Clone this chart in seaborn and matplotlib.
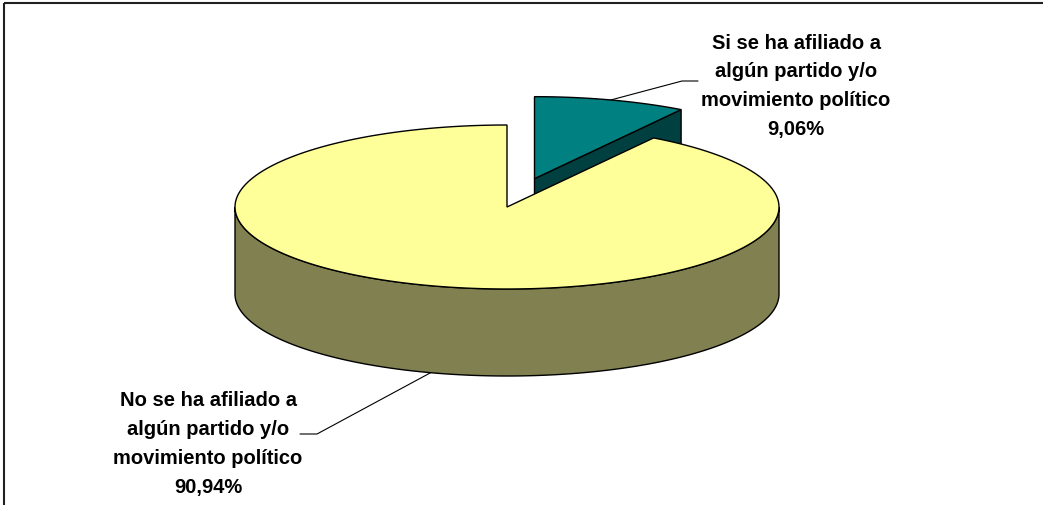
import numpy as np
import matplotlib
matplotlib.use("Agg")
import matplotlib.pyplot as plt
from matplotlib import font_manager
from matplotlib.patches import Polygon
import seaborn as sns

# ── Data ──────────────────────────────────────────────────────────────────────
labels = [
    "Si se ha afiliado a\nalgún partido y/o\nmovimiento político",
    "No se ha afiliado a\nalgún partido y/o\nmovimiento político",
]
values = [9.06, 90.94]            # percent
explode = [0.36, 0.0]

TOP_COLORS = ["#008080", "#FFFF99"]
SIDE_COLORS = ["#004040", "#808050"]

# ── Geometry (pixels) ─────────────────────────────────────────────────────────
W, H = 1043, 506
CX, CY = 507, 208      # centre of the top ellipse
RX, RY = 272, 82       # ellipse radii
DEPTH = 87             # height of the pie wall
EDGE_LW = 1.0

sns.set_style("white")
_names = {f.name for f in font_manager.fontManager.ttflist}
if "Liberation Sans Narrow" in _names:
    FONT, FSIZE = "Liberation Sans Narrow", 17
else:
    FONT, FSIZE = "Liberation Sans", 14.5
plt.rcParams["font.family"] = [FONT, "DejaVu Sans"]


def rim(theta, cx, cy, dz=0.0):
    t = np.radians(theta)
    return cx + RX * np.cos(t), cy - RY * np.sin(t) + dz


def arc(lo, hi, cx, cy, dz=0.0, n=200):
    th = np.linspace(lo, hi, n)
    x, y = rim(th, cx, cy, dz)
    return np.column_stack([x, y])


def front_ranges(lo, hi):
    """Parts of [lo, hi] that lie on the front half (sin < 0)."""
    out = []
    for k in range(-2, 3):
        a, b = max(lo, k * 360 - 180), min(hi, k * 360)
        if b > a:
            out.append((a, b))
    return out


fig = plt.figure(figsize=(W / 100, H / 100), dpi=100)
ax = fig.add_axes([0, 0, 1, 1])
ax.set_xlim(0, W)
ax.set_ylim(H, 0)
ax.axis("off")

# slice angle ranges: start at 12 o'clock, run clockwise
slices = []
start = 90.0
for v, e in zip(values, explode):
    span = 360.0 * v / sum(values)
    lo, hi = start - span, start
    mid = (lo + hi) / 2
    cx, cy = rim(mid, 0, 0)
    cx, cy = CX + e * cx, CY + e * cy
    slices.append((lo, hi, mid, cx, cy))
    start = lo

# back slices first
order = sorted(range(len(slices)), key=lambda i: -np.sin(np.radians(slices[i][2])))
for i in order:
    lo, hi, mid, cx, cy = slices[i]
    side, top = SIDE_COLORS[i], TOP_COLORS[i]
    # radial faces
    for ang, vis in ((lo, np.cos(np.radians(lo)) > 1e-6),
                     (hi, np.cos(np.radians(hi)) < -1e-6)):
        if vis:
            px, py = rim(ang, cx, cy)
            face = [(cx, cy), (px, py), (px, py + DEPTH), (cx, cy + DEPTH)]
            ax.add_patch(Polygon(face, closed=True, fc=side, ec="black", lw=EDGE_LW))
    # outer wall
    for a, b in front_ranges(lo, hi):
        pts = np.vstack([arc(a, b, cx, cy), arc(a, b, cx, cy, DEPTH)[::-1]])
        ax.add_patch(Polygon(pts, closed=True, fc=side, ec="black", lw=EDGE_LW))
    # top face
    pts = np.vstack([[cx, cy], arc(lo, hi, cx, cy)])
    ax.add_patch(Polygon(pts, closed=True, fc=top, ec="black", lw=EDGE_LW))

# ── Labels with leader lines ──────────────────────────────────────────────────
def pct(v):
    return f"{v:.2f}".replace(".", ",") + "%"


label_pos = [(796, [49, 77, 106, 135]), (208, [406, 435, 464, 493])]
leaders = [[(682, 82), (698, 82)], [(317, 435), (300, 435)]]

for i, (lo, hi, mid, cx, cy) in enumerate(slices):
    dz = 0 if np.sin(np.radians(mid)) > 0 else DEPTH
    sx, sy = rim(mid, cx, cy, dz)
    xs = [sx] + [p[0] for p in leaders[i]]
    ys = [sy] + [p[1] for p in leaders[i]]
    ax.plot(xs, ys, color="black", lw=0.8)

    tx, baselines = label_pos[i]
    lines = (labels[i] + "\n" + pct(values[i])).split("\n")
    for line, by in zip(lines, baselines):
        ax.text(tx, by, line, ha="center", va="baseline",
                fontsize=FSIZE, fontweight="bold", color="black")

# chart frame (cropped at the right and bottom)
ax.plot([4, W], [3.5, 3.5], color="#202020", lw=1.5, solid_capstyle="butt")
ax.plot([4, 4], [3.5, H], color="#202020", lw=1.5, solid_capstyle="butt")

fig.savefig("out.png", dpi=100)
